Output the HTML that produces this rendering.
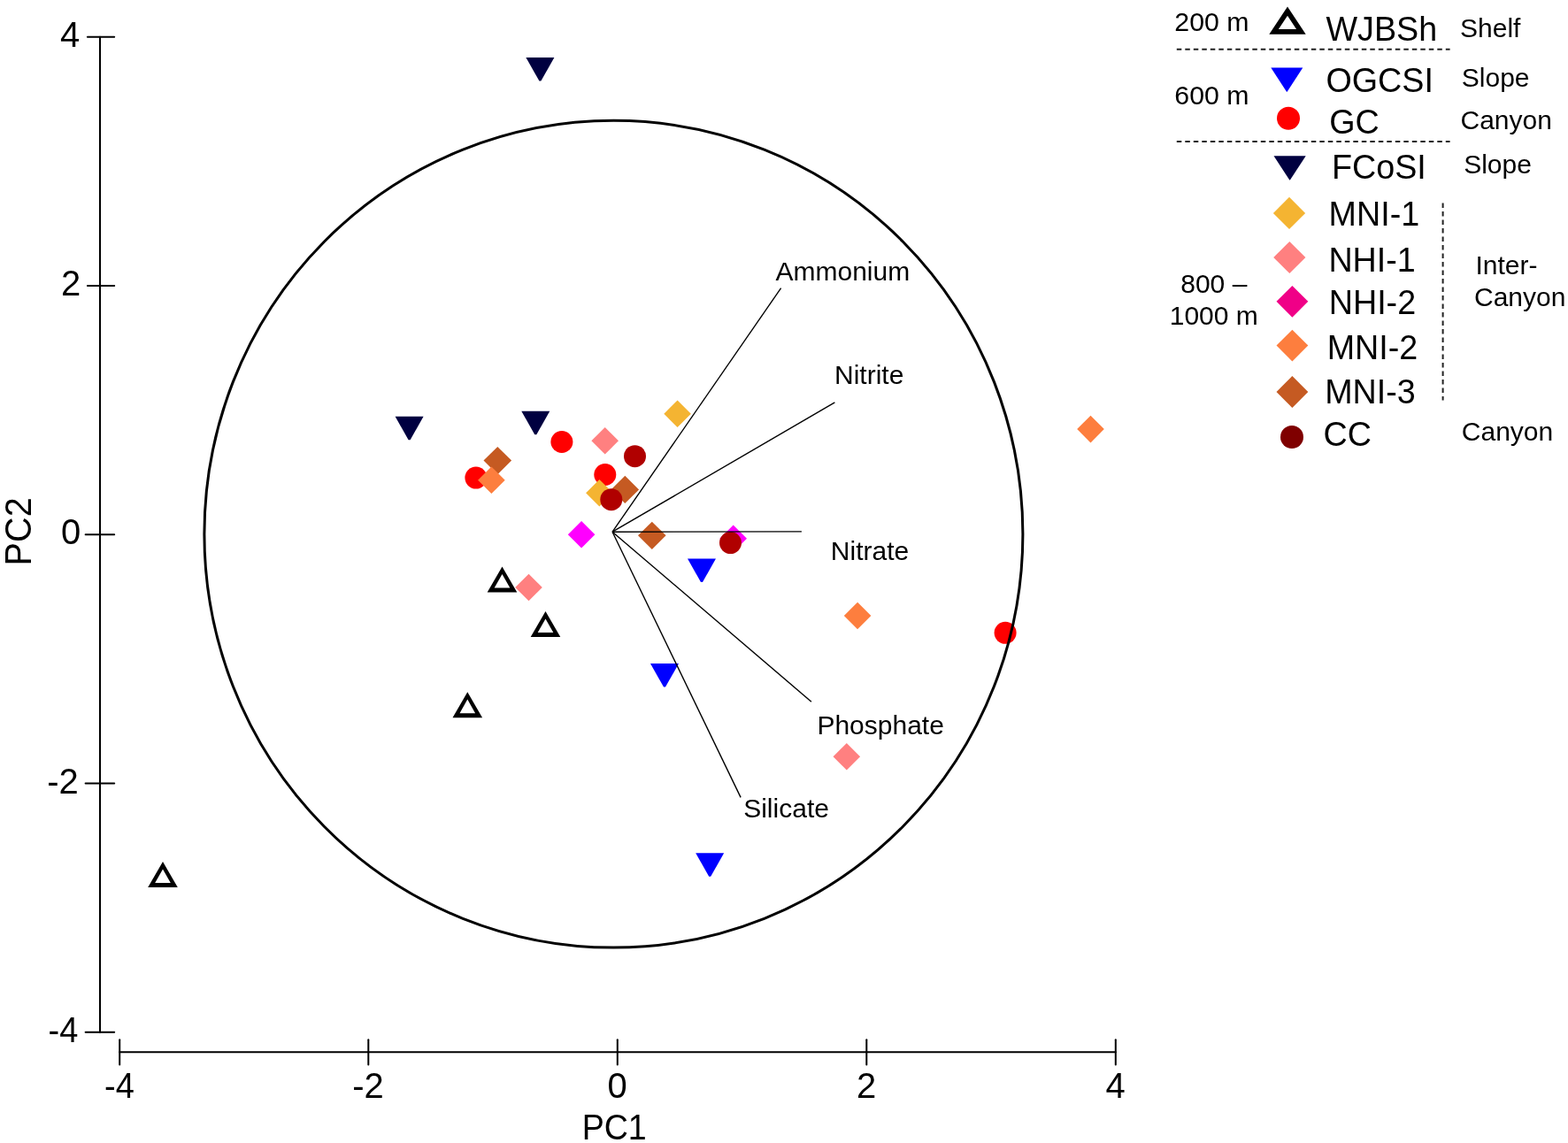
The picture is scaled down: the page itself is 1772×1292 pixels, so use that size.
<!DOCTYPE html>
<html><head><meta charset="utf-8"><title>PCA plot</title>
<style>html,body{margin:0;padding:0;background:#fff;}svg{display:block;} text{font-family:"Liberation Sans", Arial, sans-serif;fill:#000;}</style>
</head><body>
<svg width="1772" height="1292" viewBox="0 0 1772 1292">
<rect width="1772" height="1292" fill="#fff"/>
<g stroke="#000" stroke-width="2" fill="none" stroke-linecap="round">
<line x1="113" y1="41.8" x2="113" y2="1166.8"/>
<line x1="98.9" y1="41.8" x2="129.2" y2="41.8"/>
<line x1="98.9" y1="323.0" x2="129.2" y2="323.0"/>
<line x1="96.6" y1="604.3" x2="129.2" y2="604.3"/>
<line x1="96.6" y1="885.5" x2="129.2" y2="885.5"/>
<line x1="96.6" y1="1166.8" x2="129.2" y2="1166.8"/>
<line x1="135.2" y1="1189.2" x2="1260.8" y2="1189.2"/>
<line x1="135.2" y1="1175.3" x2="135.2" y2="1203.6"/>
<line x1="416.3" y1="1175.3" x2="416.3" y2="1203.6"/>
<line x1="697.8" y1="1175.3" x2="697.8" y2="1203.6"/>
<line x1="979.3" y1="1175.3" x2="979.3" y2="1203.6"/>
<line x1="1260.8" y1="1175.3" x2="1260.8" y2="1203.6"/>
</g>
<text transform="translate(90.2,52.8) scale(1,1.035)" font-size="40" text-anchor="end" >4</text>
<text transform="translate(91.2,334.0) scale(1,1.035)" font-size="40" text-anchor="end" >2</text>
<text transform="translate(91.2,615.3) scale(1,1.035)" font-size="40" text-anchor="end" >0</text>
<text transform="translate(88.8,896.5) scale(1,1.035)" font-size="40" text-anchor="end" >-2</text>
<text transform="translate(88.3,1177.8) scale(0.95,1.035)" font-size="40" text-anchor="end" >-4</text>
<text transform="translate(134.9,1241) scale(0.95,1.035)" font-size="40" text-anchor="middle" >-4</text>
<text transform="translate(416.0,1241) scale(1,1.035)" font-size="40" text-anchor="middle" >-2</text>
<text transform="translate(697.5,1241) scale(1,1.035)" font-size="40" text-anchor="middle" >0</text>
<text transform="translate(979.0,1241) scale(1,1.035)" font-size="40" text-anchor="middle" >2</text>
<text transform="translate(1260.5,1241) scale(1,1.035)" font-size="40" text-anchor="middle" >4</text>
<text transform="translate(694.2,1288) scale(0.94,1.02)" font-size="40" text-anchor="middle" >PC1</text>
<text x="0" y="0" font-size="41.5" text-anchor="middle" transform="translate(35.2,600.85) rotate(-90) scale(0.955,1.04)">PC2</text>
<path d="M567.5,640.5 L584.3,669.5 L550.7,669.5 Z M567.5,648.9 L558.7,664.5 L576.3,664.5 Z" fill="#000" fill-rule="evenodd"/>
<path d="M616.5,691.0 L633.3,720.0 L599.7,720.0 Z M616.5,699.4 L607.7,715.0 L625.3,715.0 Z" fill="#000" fill-rule="evenodd"/>
<path d="M528.3,782.2 L545.1,811.2 L511.5,811.2 Z M528.3,790.6 L519.5,806.2 L537.1,806.2 Z" fill="#000" fill-rule="evenodd"/>
<path d="M184.0,974.1 L200.8,1003.1 L167.2,1003.1 Z M184.0,982.5 L175.2,998.1 L192.8,998.1 Z" fill="#000" fill-rule="evenodd"/>
<polygon points="594.4,65.1 626.4,65.1 611.4,91.6 609.4,91.6" fill="#000040"/>
<polygon points="446.6,470.8 478.6,470.8 463.6,497.3 461.6,497.3" fill="#000040"/>
<polygon points="589.3,464.7 621.3,464.7 606.3,491.2 604.3,491.2" fill="#000040"/>
<polygon points="777.0,631.6 809.0,631.6 794.0,658.1 792.0,658.1" fill="#0000ff"/>
<polygon points="735.0,750.1 767.0,750.1 752.0,776.6 750.0,776.6" fill="#0000ff"/>
<polygon points="786.2,964.2 818.2,964.2 803.2,990.7 801.2,990.7" fill="#0000ff"/>
<circle cx="634.9" cy="499.5" r="12.5" fill="#ff0000"/>
<circle cx="537.9" cy="540.1" r="12.5" fill="#ff0000"/>
<circle cx="683.8" cy="536.5" r="12.5" fill="#ff0000"/>
<circle cx="1136.1" cy="715.3" r="12.5" fill="#ff0000"/>
<polygon points="562.3,505.0 578.1,520.6 562.3,536.2 546.5,520.6" fill="#c55a22"/>
<polygon points="706.3,537.8 722.1,553.4 706.3,569.0 690.5,553.4" fill="#c55a22"/>
<polygon points="736.8,589.7 752.6,605.3 736.8,620.9 721.0,605.3" fill="#c55a22"/>
<polygon points="765.6,452.4 780.9,467.7 765.6,483.0 750.3,467.7" fill="#f4b432"/>
<polygon points="677.4,542.0 692.7,557.3 677.4,572.6 662.1,557.3" fill="#f4b432"/>
<polygon points="555.4,527.5 570.7,542.8 555.4,558.1 540.1,542.8" fill="#fd7e3e"/>
<polygon points="1232.5,469.8 1247.8,485.1 1232.5,500.4 1217.2,485.1" fill="#fd7e3e"/>
<polygon points="969.1,680.7 984.4,696.0 969.1,711.3 953.8,696.0" fill="#fd7e3e"/>
<polygon points="683.7,483.0 699.0,498.3 683.7,513.6 668.4,498.3" fill="#ff8080"/>
<polygon points="597.5,648.7 612.8,664.0 597.5,679.3 582.2,664.0" fill="#ff8080"/>
<polygon points="956.8,839.9 972.1,855.2 956.8,870.5 941.5,855.2" fill="#ff8080"/>
<polygon points="657.1,588.9 672.4,604.2 657.1,619.5 641.8,604.2" fill="#ff00ff"/>
<polygon points="828.7,593.5 844.0,608.8 828.7,624.1 813.4,608.8" fill="#ff00ff"/>
<circle cx="717.5" cy="515.7" r="12.5" fill="#b00000"/>
<circle cx="690.8" cy="564.7" r="12.5" fill="#b00000"/>
<circle cx="825.5" cy="613.6" r="12.5" fill="#b00000"/>
<ellipse cx="693.4" cy="603.7" rx="462.5" ry="467.4" fill="none" stroke="#000" stroke-width="3"/>
<g stroke="#000" stroke-width="1.4">
<line x1="692.1" y1="601.2" x2="882.6" y2="325.7"/>
<line x1="692.1" y1="601.2" x2="943.4" y2="454.9"/>
<line x1="692.1" y1="601.2" x2="905.9" y2="600.9"/>
<line x1="692.1" y1="601.2" x2="916.9" y2="793.2"/>
<line x1="692.1" y1="601.2" x2="837.1" y2="901.4"/>
</g>
<text x="876.5" y="317.2" font-size="30" text-anchor="start" >Ammonium</text>
<text x="943.0" y="434.0" font-size="30" text-anchor="start" >Nitrite</text>
<text x="938.8" y="633.1" font-size="30" text-anchor="start" >Nitrate</text>
<text x="923.4" y="830.0" font-size="30" text-anchor="start" >Phosphate</text>
<text x="840.2" y="923.5" font-size="30" text-anchor="start" >Silicate</text>
<g stroke="#222" stroke-width="2" stroke-dasharray="5.5 4" fill="none">
<line x1="1329.8" y1="55.7" x2="1638.6" y2="55.7"/>
<line x1="1329.8" y1="160" x2="1638.6" y2="160"/>
<line x1="1630.6" y1="229.6" x2="1630.6" y2="452.5"/>
</g>
<path d="M1455,7.5 L1475.7,38.7 L1434.3,38.7 Z M1455,17.8 L1444.9,32.9 L1465,32.9 Z" fill="#000" fill-rule="evenodd"/>
<polygon points="1436.3,76.6 1472.3,76.6 1454.6,103.7 1454.0,103.7" fill="#0000ff"/>
<circle cx="1456.0" cy="133.7" r="13" fill="#ff0000"/>
<polygon points="1439.5,176.3 1475.7,176.3 1457.9,203.4 1457.3,203.4" fill="#000040"/>
<polygon points="1457.0,222.7 1475.1,240.9 1457.0,259.1 1438.9,240.9" fill="#f4b432"/>
<polygon points="1457.3,272.9 1475.4,291.0 1457.3,309.1 1439.2,291.0" fill="#ff8080"/>
<polygon points="1460.4,322.9 1478.3,340.8 1460.4,358.7 1442.5,340.8" fill="#f00087"/>
<polygon points="1460.4,372.7 1478.3,390.6 1460.4,408.5 1442.5,390.6" fill="#fd7e3e"/>
<polygon points="1460.4,425.1 1478.3,443.0 1460.4,460.9 1442.5,443.0" fill="#c55a22"/>
<circle cx="1460.0" cy="494.0" r="13" fill="#7f0000"/>
<text transform="translate(1498.5,46.3) scale(1,1.05)" font-size="37.7" text-anchor="start" >WJBSh</text>
<text transform="translate(1498.4,103.9) scale(1,1.035)" font-size="37.7" text-anchor="start" >OGCSI</text>
<text transform="translate(1502.3,151.2) scale(1,1.035)" font-size="37.7" text-anchor="start" >GC</text>
<text transform="translate(1505.0,201.9) scale(1,1.035)" font-size="37.7" text-anchor="start" >FCoSI</text>
<text transform="translate(1501.6,255.0) scale(1,1.035)" font-size="37.7" text-anchor="start" >MNI-1</text>
<text transform="translate(1501.4,306.6) scale(1,1.035)" font-size="37.7" text-anchor="start" >NHI-1</text>
<text transform="translate(1501.7,354.7) scale(1,1.035)" font-size="37.7" text-anchor="start" >NHI-2</text>
<text transform="translate(1499.7,405.6) scale(1,1.035)" font-size="37.7" text-anchor="start" >MNI-2</text>
<text transform="translate(1497.2,456.4) scale(1,1.035)" font-size="37.7" text-anchor="start" >MNI-3</text>
<text transform="translate(1495.6,503.6) scale(1,1.035)" font-size="37.7" text-anchor="start" >CC</text>
<text transform="translate(1327.3,34.9) scale(1.01,1)" font-size="30" text-anchor="start" >200 m</text>
<text transform="translate(1327.3,118.4) scale(1.01,1)" font-size="30" text-anchor="start" >600 m</text>
<text x="1371.8" y="330.8" font-size="30" text-anchor="middle" >800 –</text>
<text x="1371.8" y="367.1" font-size="30" text-anchor="middle" >1000 m</text>
<text x="1650.0" y="42.0" font-size="30" text-anchor="start" >Shelf</text>
<text x="1651.8" y="98.3" font-size="30" text-anchor="start" >Slope</text>
<text x="1650.5" y="146.0" font-size="30" text-anchor="start" >Canyon</text>
<text x="1654.2" y="196.3" font-size="30" text-anchor="start" >Slope</text>
<text x="1667.5" y="309.6" font-size="30" text-anchor="start" >Inter-</text>
<text x="1666.0" y="345.6" font-size="30" text-anchor="start" >Canyon</text>
<text x="1651.8" y="498.1" font-size="30" text-anchor="start" >Canyon</text>
</svg>
</body></html>
